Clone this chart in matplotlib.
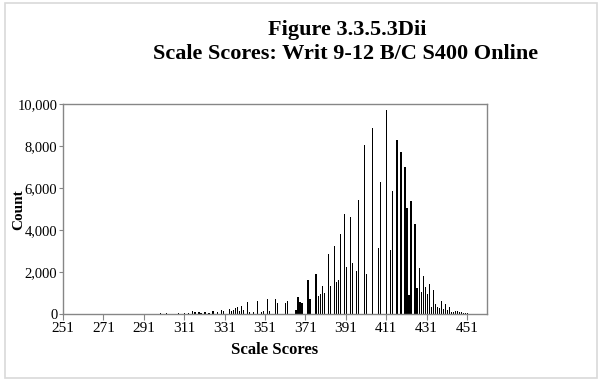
import numpy as np
import matplotlib.pyplot as plt
from matplotlib.patches import Rectangle

# Scale score values and counts
scores = [258, 264, 270, 277, 283, 289, 295, 299, 302, 305, 308, 311, 313, 315,
          316, 318, 319, 321, 323, 325, 327, 329, 330, 333, 334, 335, 336, 337,
          338, 339, 340, 342, 343, 345, 347, 349, 350, 352, 353, 356, 357, 361,
          362, 366, 367, 368, 369, 372, 373, 376, 377, 378, 379, 380, 382, 383,
          385, 386, 387, 388, 390, 391, 393, 394, 396, 397, 400, 401, 404, 407,
          408, 411, 413, 414, 416, 418, 420, 421, 422, 423, 425, 426, 427, 428,
          429, 430, 431, 432, 433, 434, 435, 436, 437, 438, 439, 440, 441, 442,
          443, 444, 445, 446, 447, 448, 449, 450, 451, 452, 453, 455, 458]
counts = [10, 10, 15, 10, 15, 20, 20, 25, 30, 20, 40, 60, 50, 120,
          80, 100, 60, 110, 40, 120, 90, 200, 120, 220, 150, 180, 280, 310,
          140, 400, 180, 560, 100, 90, 600, 100, 130, 720, 120, 720, 510, 520,
          600, 200, 800, 560, 520, 1630, 720, 1910, 850, 960, 1310, 1000, 2870, 1310,
          3250, 1530, 1600, 3830, 4740, 2230, 4600, 2420, 2030, 5450, 8040, 1910, 8880, 3130,
          6300, 9700, 3030, 5850, 8290, 7700, 7000, 5070, 920, 5380, 4290, 1250, 2200, 1040,
          1820, 1300, 930, 1440, 320, 1120, 480, 320, 280, 640, 250, 480, 200, 320,
          100, 80, 160, 130, 90, 70, 40, 30, 30, 20, 20, 10, 10]

xticks = list(range(251, 452, 20))
yticks = [0, 2000, 4000, 6000, 8000, 10000]

plt.rcParams['font.family'] = 'Liberation Serif'

fig = plt.figure(figsize=(6, 3.81), dpi=100)
ax = fig.add_axes([0.105, 0.176, 0.707, 0.551])

ax.bar(scores, counts, width=0.6, color='black', align='edge')

ax.set_xlim(251, 461)
ax.set_ylim(0, 10000)
ax.set_xticks(xticks)
ax.set_xticklabels([str(t) for t in xticks], fontsize=11)
ax.set_yticks(yticks)
ax.set_yticklabels(['{:,}'.format(t) for t in yticks], fontsize=10.5)
ax.tick_params(axis='x', direction='out', length=4, color='#868686', pad=2)
ax.tick_params(axis='y', direction='out', length=3, color='#868686', pad=1)

for s in ax.spines.values():
    s.set_color('#868686')
    s.set_linewidth(1)

fig.text(0.578, 0.921, 'Figure 3.3.5.3Dii', ha='center', va='center',
         fontsize=16, fontweight='bold')
fig.text(0.576, 0.857, 'Scale Scores: Writ 9-12 B/C S400 Online', ha='center',
         va='center', fontsize=16, fontweight='bold')
fig.text(0.032, 0.449, 'Count', rotation=90, ha='center', va='center',
         fontsize=11, fontweight='bold')
fig.text(0.458, 0.081, 'Scale Scores', ha='center', va='center',
         fontsize=12, fontweight='bold')

# chart border
fig.patches.append(Rectangle((0.008, 0.008), 0.987, 0.984, transform=fig.transFigure,
                             fill=False, edgecolor='#d9d9d9', linewidth=1.2))

fig.savefig('out.png', dpi=100)
